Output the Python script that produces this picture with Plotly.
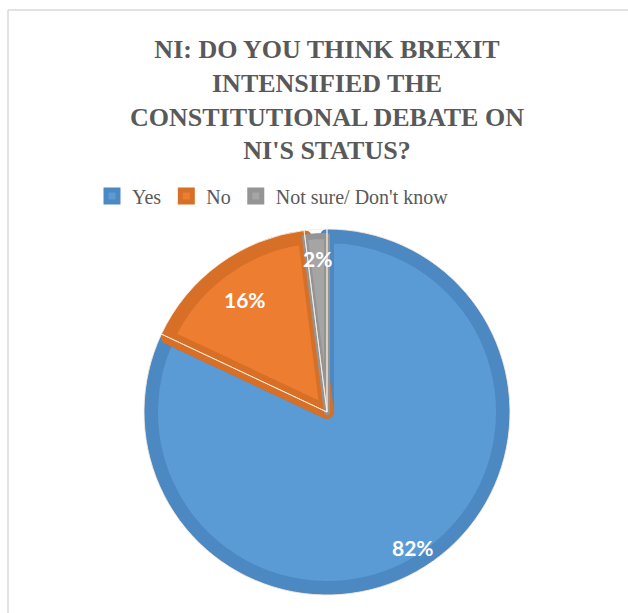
import math
import plotly.graph_objects as go

# ---- data ----
categories = ["Yes", "No", "Not sure/ Don't know"]
values = [82, 16, 2]
label_texts = ["82%", "16%", "2%"]
title_text = "NI: DO YOU THINK BREXIT<br>INTENSIFIED THE<br>CONSTITUTIONAL DEBATE ON<br>NI'S STATUS?"

# ---- style ----
W, H = 628, 613
fill_colors = ["#5B9BD5", "#ED7D31", "#A5A5A5"]
edge_colors = ["#4C88C2", "#D86F27", "#949494"]
edge_widths = [14, 14, 6]
label_radius = [0.88, 0.76, 0.84]   # label distance from centre, fraction of radius
CX, CY = 327, 412          # pie centre (px)
R_OUT = 183                # outer radius incl. border band (px)
BAND = 14
R_PIE = R_OUT - BAND / 2

def dom(cx, cy, r):
    return dict(x=[(cx - r) / W, (cx + r) / W], y=[1 - (cy + r) / H, 1 - (cy - r) / H])

fig = go.Figure()
fig.add_trace(go.Pie(
    labels=categories, values=values, sort=False, direction="clockwise", rotation=0,
    marker=dict(colors=fill_colors, line=dict(color=edge_colors, width=edge_widths)),
    textinfo="none", hoverinfo="label+percent", domain=dom(CX, CY, R_PIE),
))
# thin separators between slices
fig.add_trace(go.Pie(
    labels=categories, values=values, sort=False, direction="clockwise", rotation=0,
    marker=dict(colors=["rgba(0,0,0,0)"] * 3, line=dict(color="rgba(250,235,220,0.85)", width=1)),
    textinfo="none", hoverinfo="skip", showlegend=False, domain=dom(CX, CY, R_OUT),
))

# data labels at slice mid-angles
total = sum(values)
cum = 0
annotations = []
for v, t, k in zip(values, label_texts, label_radius):
    theta = 2 * math.pi * (cum + v / 2) / total
    cum += v
    px = CX + R_OUT * k * math.sin(theta)
    py = CY - R_OUT * k * math.cos(theta)
    annotations.append(dict(x=px / W, y=1 - py / H, xref="paper", yref="paper", text=t,
                            xanchor="center", yanchor="middle",
                            showarrow=False, font=dict(family="Lato", size=21, color="white", weight="bold")))

fig.update_layout(
    width=W, height=H, margin=dict(l=0, r=0, t=0, b=0),
    paper_bgcolor="white", plot_bgcolor="white",
    title=dict(text=title_text, x=327 / W, xanchor="center", xref="paper",
               y=1 - 58 / H, yanchor="top", yref="container",
               font=dict(family="Liberation Serif", size=26, color="#595959", weight="bold")),
    legend=dict(orientation="h", x=273 / W, xanchor="center", y=1 - 196 / H, yanchor="middle",
                font=dict(family="Liberation Serif", size=20, color="#595959"),
                itemwidth=30, tracegroupgap=0),
    annotations=annotations,
    shapes=[
        dict(type="line", xref="paper", yref="paper", x0=8 / W, x1=8 / W, y0=0, y1=1 - 10 / H,
             line=dict(color="#D9D9D9", width=1.5)),
        dict(type="line", xref="paper", yref="paper", x0=8 / W, x1=1, y0=1 - 10 / H, y1=1 - 10 / H,
             line=dict(color="#D9D9D9", width=1.5)),
    ],
)

fig.write_html("out.html")
